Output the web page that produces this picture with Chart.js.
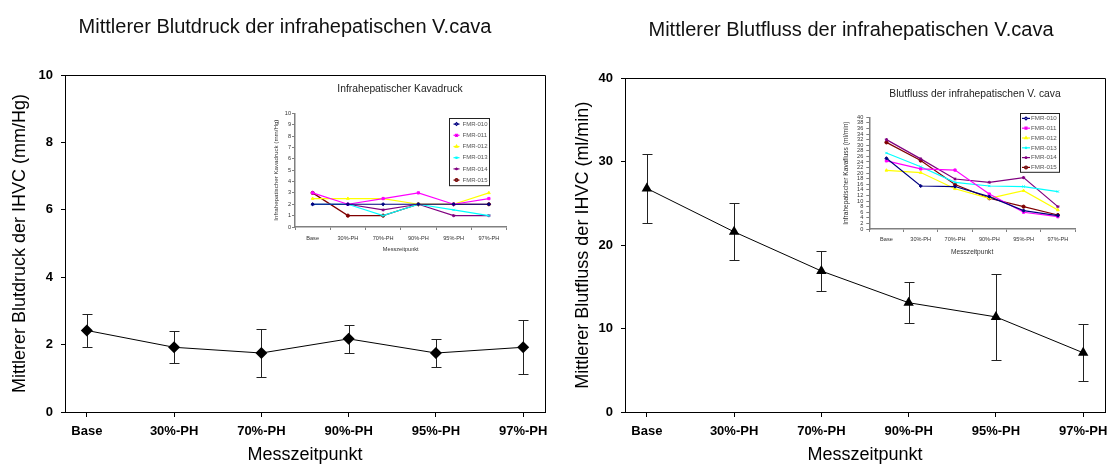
<!DOCTYPE html>
<html>
<head>
<meta charset="utf-8">
<script src="https://cdn.jsdelivr.net/npm/chart.js@4.4.1/dist/chart.umd.min.js"></script>
<style>
  html, body { margin: 0; padding: 0; background: #fff; }
  body { position: relative; width: 1109px; height: 466px; overflow: hidden; }
  canvas { position: absolute; }
</style>
</head>
<body>
<canvas id="pressureChart" width="570" height="466" style="left:0;top:0"></canvas>
<canvas id="flowChart" width="582" height="466" style="left:560px;top:0"></canvas>
<canvas id="pressureInset" width="276" height="182" style="left:262px;top:78px"></canvas>
<canvas id="flowInset" width="274" height="182" style="left:838px;top:80px"></canvas>
<script>
// Messzeitpunkte
const categories = ['Base', '30%-PH', '70%-PH', '90%-PH', '95%-PH', '97%-PH'];

// Mittelwerte und Standardabweichung
const pressureMean = [2.42, 1.92, 1.75, 2.17, 1.75, 1.92];
const pressureSd = [0.49, 0.48, 0.70, 0.41, 0.42, 0.80];
const flowMean = [26.8, 21.6, 16.9, 13.1, 11.4, 7.1];
const flowSd = [4.15, 3.4, 2.4, 2.45, 5.2, 3.4];

const pressureTicks = [0, 2, 4, 6, 8, 10];
const flowTicks = [0, 10, 20, 30, 40];

// Einzeltiere (Insets)
const animals = ['FMR-010', 'FMR-011', 'FMR-012', 'FMR-013', 'FMR-014', 'FMR-015'];
const animalColors = ['#000080', '#ff00ff', '#ffff00', '#00ffff', '#800080', '#800000'];
const animalMarkers = ['rectRot', 'rect', 'triangle', 'crossRot', 'star', 'circle'];

const pressure010 = [2, 2, 2, 2, 2, 2];
const pressure011 = [3, 2, 2.5, 3, 2, 2.5];
const pressure012 = [2.5, 2.5, 2.5, 2, 2, 3];
const pressure013 = [2, 2, 1, 2, 1.5, 1];
const pressure014 = [2, 2, 1.5, 2, 1, 1];
const pressure015 = [3, 1, 1, 2, 2, 2];

const flow010 = [25.3, 15.4, 15.2, 11.6, 6.6, 4.8];
const flow011 = [24.4, 21.5, 21.1, 12.5, 6.0, 4.4];
const flow012 = [21.0, 20.2, 14.4, 11.0, 13.7, 6.8];
const flow013 = [27.2, 22.3, 16.7, 15.4, 15.2, 13.4];
const flow014 = [32.0, 25.1, 17.9, 16.7, 18.4, 8.0];
const flow015 = [31.0, 24.5, 15.9, 11.0, 8.0, 5.0];

const insetPressureTicks = [0, 1, 2, 3, 4, 5, 6, 7, 8, 9, 10];
const insetFlowTicks = [0, 2, 4, 6, 8, 10, 12, 14, 16, 18, 20, 22, 24, 26, 28, 30, 32, 34, 36, 38, 40];

Chart.defaults.font.family = '"Liberation Sans", Arial, sans-serif';
Chart.defaults.color = '#000';
Chart.defaults.animation = false;

// Fehlerbalken (Mittelwert +/- SD)
const errorBars = {
  id: 'errorBars',
  beforeDatasetsDraw(chart, args, opts) {
    const { ctx, scales: { x, y } } = chart;
    ctx.save();
    ctx.strokeStyle = '#222';
    ctx.lineWidth = 1;
    chart.data.datasets[0].data.forEach((p, i) => {
      const px = Math.round(x.getPixelForValue(p.x)) + 0.5;
      const top = Math.round(y.getPixelForValue(p.y + opts.sd[i])) + 0.5;
      const bot = Math.round(y.getPixelForValue(p.y - opts.sd[i])) + 0.5;
      ctx.beginPath();
      ctx.moveTo(px, top); ctx.lineTo(px, bot);
      ctx.moveTo(px - 5, top); ctx.lineTo(px + 5, top);
      ctx.moveTo(px - 5, bot); ctx.lineTo(px + 5, bot);
      ctx.stroke();
    });
    ctx.restore();
  }
};

// Rahmen oben/rechts
const frame = {
  id: 'frame',
  beforeDatasetsDraw(chart) {
    const { ctx, chartArea: a } = chart;
    ctx.save();
    ctx.strokeStyle = '#000';
    ctx.lineWidth = 1;
    ctx.beginPath();
    ctx.moveTo(a.left, Math.round(a.top) + 0.5);
    ctx.lineTo(Math.round(a.right) + 0.5, Math.round(a.top) + 0.5);
    ctx.lineTo(Math.round(a.right) + 0.5, a.bottom);
    ctx.stroke();
    ctx.restore();
  }
};

// Legende im Diagramm (wie Excel-Inset)
const insetLegend = {
  id: 'insetLegend',
  afterDraw(chart, args, o) {
    const { ctx, chartArea: a } = chart;
    const sets = chart.data.datasets;
    const right = Math.round(a.right - o.right) + 0.5;
    const left = right - o.width;
    const top = Math.round(a.top + o.top) + 0.5;
    ctx.save();
    ctx.fillStyle = '#fff';
    ctx.fillRect(left, top, o.width, o.row * sets.length);
    ctx.strokeStyle = '#222';
    ctx.lineWidth = 1;
    ctx.strokeRect(left, top, o.width, o.row * sets.length);
    ctx.font = o.font + 'px "Liberation Sans", Arial, sans-serif';
    ctx.textBaseline = 'middle';
    sets.forEach((ds, i) => {
      const cy = top + o.row * (i + 0.5);
      ctx.strokeStyle = ds.borderColor;
      ctx.lineWidth = 1.2;
      ctx.beginPath();
      ctx.moveTo(left + o.sampleX, cy);
      ctx.lineTo(left + o.sampleX + o.sampleW, cy);
      ctx.stroke();
      Chart.helpers.drawPoint(ctx, { pointStyle: ds.pointStyle, radius: 1.4, borderWidth: 1 }, left + o.sampleX + o.sampleW / 2, cy);
      ctx.fillStyle = '#555';
      ctx.fillText(ds.label, left + o.textX, cy);
    });
    ctx.restore();
  }
};

// leere Achse rechts, damit der Titel über die ganze Breite zentriert bleibt
function spacer(w) {
  return {
    position: 'right',
    display: true,
    grid: { display: false },
    border: { display: false },
    ticks: { display: false },
    afterFit: s => { s.width = w; }
  };
}

function mainChart(id, mean, sd, ticks, marker, yTitle, t) {
  return new Chart(document.getElementById(id), {
    type: 'line',
    data: {
      datasets: [{
        data: mean.map((v, i) => ({ x: i, y: v })),
        borderColor: '#000',
        borderWidth: 1,
        backgroundColor: '#000',
        pointStyle: marker,
        pointRadius: 6,
        pointBorderWidth: 0,
        tension: 0
      }]
    },
    options: {
      responsive: false,
      layout: { padding: 0 },
      plugins: {
        legend: { display: false },
        tooltip: { enabled: false },
        title: {
          display: true,
          text: t.title,
          font: { size: 20, weight: 'normal' },
          color: '#111',
          padding: { top: t.titleTop, bottom: t.titleBottom }
        },
        errorBars: { sd: sd }
      },
      scales: {
        x: {
          type: 'linear',
          min: -0.25,
          max: categories.length - 0.75,
          afterBuildTicks: s => { s.ticks = categories.map((c, i) => ({ value: i })); },
          afterFit: s => { s.height = 54; },
          grid: { drawOnChartArea: false, tickLength: 5, color: '#000' },
          border: { color: '#000', width: 1 },
          ticks: {
            autoSkip: false, maxRotation: 0, padding: 7,
            font: { size: 13, weight: 'bold' },
            callback: v => categories[v]
          },
          title: {
            display: true, text: 'Messzeitpunkt',
            font: { size: 18 }, padding: { top: 0, bottom: 0 }
          }
        },
        y: {
          min: ticks[0],
          max: ticks[ticks.length - 1],
          afterBuildTicks: s => { s.ticks = ticks.map(v => ({ value: v })); },
          afterFit: s => { s.width = 65; },
          grid: { drawOnChartArea: false, tickLength: 4, color: '#000' },
          border: { color: '#000', width: 1 },
          ticks: { padding: 8, font: { size: 13, weight: 'bold' } },
          title: {
            display: true, text: yTitle,
            font: { size: 18 }, padding: { top: t.yTitlePad, bottom: 0 }
          }
        },
        pad: spacer(t.padRight)
      }
    },
    plugins: [errorBars, frame]
  });
}

function insetChart(id, series, ticks, t) {
  return new Chart(document.getElementById(id), {
    type: 'line',
    data: {
      labels: categories,
      datasets: series.map((s, i) => ({
        label: animals[i],
        data: s,
        borderColor: animalColors[i],
        backgroundColor: animalColors[i],
        borderWidth: 1.2,
        pointStyle: animalMarkers[i],
        pointRadius: 1.6,
        pointBorderWidth: 1,
        tension: 0
      }))
    },
    options: {
      responsive: false,
      layout: { padding: 0 },
      plugins: {
        legend: { display: false },
        tooltip: { enabled: false },
        title: {
          display: true,
          text: t.title,
          font: { size: 10.3, weight: 'normal' },
          color: '#222',
          padding: { top: t.titleTop, bottom: t.titleBottom }
        },
        insetLegend: t.legend
      },
      scales: {
        x: {
          type: 'category',
          offset: true,
          afterFit: s => { s.height = 33; },
          grid: { offset: true, drawOnChartArea: false, tickLength: 3, color: '#808080' },
          border: { color: '#808080', width: 1.5 },
          ticks: { autoSkip: false, maxRotation: 0, padding: t.xTickPad, color: '#333', font: { size: 5.6 } },
          title: {
            display: true, text: 'Messzeitpunkt', color: '#333',
            font: { size: t.xTitleSize }, padding: { top: 0, bottom: t.xTitlePad }
          }
        },
        y: {
          min: ticks[0],
          max: ticks[ticks.length - 1],
          afterBuildTicks: s => { s.ticks = ticks.map(v => ({ value: v })); },
          afterFit: s => { s.width = t.yWidth; },
          grid: { drawOnChartArea: false, tickLength: 3, color: '#808080' },
          border: { color: '#808080', width: 1.5 },
          ticks: { autoSkip: false, padding: t.yTickPad, color: '#333', font: { size: 5.6 } },
          title: {
            display: true, text: t.yTitle, color: '#333',
            font: { size: t.yTitleSize }, padding: { top: t.yTitlePad, bottom: 0 }
          }
        },
        pad: spacer(t.padRight)
      }
    },
    plugins: [insetLegend]
  });
}

mainChart('pressureChart', pressureMean, pressureSd, pressureTicks, 'rectRot',
  'Mittlerer Blutdruck der IHVC (mm/Hg)',
  { title: 'Mittlerer Blutdruck der infrahepatischen V.cava', titleTop: 15, titleBottom: 36, yTitlePad: 9.2, padRight: 25 });

mainChart('flowChart', flowMean, flowSd, flowTicks, 'triangle',
  'Mittlerer Blutfluss der IHVC (ml/min)',
  { title: 'Mittlerer Blutfluss der infrahepatischen V.cava', titleTop: 18, titleBottom: 36.3, yTitlePad: 12.2, padRight: 37 });

insetChart('pressureInset',
  [pressure010, pressure011, pressure012, pressure013, pressure014, pressure015],
  insetPressureTicks,
  {
    title: 'Infrahepatischer Kavadruck', titleTop: 4.8, titleBottom: 18.1, padRight: 31.5,
    yTitle: 'Infrahepatischer Kavadruck (mm/Hg)', yTitleSize: 6.2, yTitlePad: 10.8, yWidth: 33, yTickPad: 1,
    xTitleSize: 5.6, xTitlePad: 6.7, xTickPad: 4.7,
    legend: { right: 17.5, top: 5, width: 40, row: 11.2, font: 6, sampleX: 4, sampleW: 6, textX: 13 }
  });

insetChart('flowInset',
  [flow010, flow011, flow012, flow013, flow014, flow015],
  insetFlowTicks,
  {
    title: 'Blutfluss der infrahepatischen V. cava', titleTop: 7.8, titleBottom: 17.1, padRight: 37,
    yTitle: 'Infrahepatischer Kavafluss (ml/min)', yTitleSize: 6.6, yTitlePad: 4.1, yWidth: 31.3, yTickPad: 3,
    xTitleSize: 6.6, xTitlePad: 5.4, xTickPad: 4,
    legend: { right: 15.7, top: -4, width: 39, row: 9.8, font: 6.2, sampleX: 1.5, sampleW: 8, textX: 10.5 }
  });
</script>
</body>
</html>
